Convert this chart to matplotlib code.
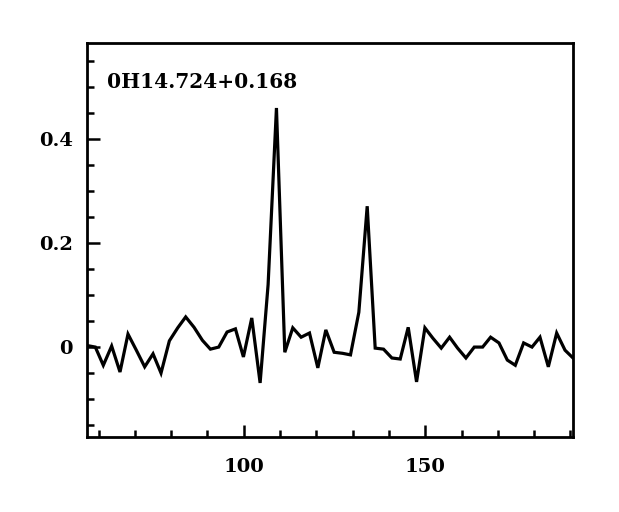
import matplotlib
matplotlib.use("Agg")
import matplotlib.pyplot as plt
from matplotlib.ticker import MultipleLocator, FuncFormatter

velocity = [56.8, 59.1, 61.3, 63.6, 65.9, 68.1, 70.4, 72.7, 75.0, 77.2,
            79.5, 81.8, 84.0, 86.3, 88.6, 90.8, 93.1, 95.4, 97.7, 99.9,
            102.2, 104.5, 106.7, 109.0, 111.3, 113.5, 115.8, 118.1, 120.4, 122.6,
            124.9, 127.2, 129.4, 131.7, 134.0, 136.2, 138.5, 140.8, 143.1, 145.3,
            147.6, 149.9, 152.1, 154.4, 156.7, 158.9, 161.2, 163.5, 165.8, 168.0,
            170.3, 172.6, 174.8, 177.1, 179.4, 181.6, 183.9, 186.2, 188.5, 190.7]
flux = [0.003, 0.000, -0.035, 0.002, -0.048, 0.025, -0.006, -0.038, -0.013, -0.050,
        0.012, 0.037, 0.058, 0.038, 0.013, -0.004, 0.000, 0.029, 0.035, -0.019,
        0.056, -0.069, 0.120, 0.460, -0.010, 0.037, 0.019, 0.027, -0.040, 0.033,
        -0.010, -0.012, -0.015, 0.067, 0.271, -0.002, -0.004, -0.021, -0.023, 0.038,
        -0.067, 0.037, 0.017, -0.002, 0.019, -0.002, -0.021, 0.000, 0.000, 0.019,
        0.008, -0.025, -0.035, 0.008, 0.000, 0.019, -0.038, 0.027, -0.006, -0.021]
source_name = "0H14.724+0.168"

fig = plt.figure(figsize=(6.19, 5.12), dpi=100)
ax = fig.add_axes([0.1405, 0.1465, 0.7852, 0.7695])
ax.plot(velocity, flux, color="black", lw=2.3, solid_joinstyle="miter")
ax.set_xlim(56.8, 190.7)
ax.set_ylim(-0.173, 0.585)

for s in ax.spines.values():
    s.set_linewidth(2.0)

ax.xaxis.set_major_locator(MultipleLocator(50))
ax.xaxis.set_minor_locator(MultipleLocator(10))
ax.yaxis.set_major_locator(MultipleLocator(0.2))
ax.yaxis.set_minor_locator(MultipleLocator(0.05))
ax.yaxis.set_major_formatter(FuncFormatter(lambda v, p: "0" if abs(v) < 1e-9 else f"{v:.1f}"))
ax.tick_params(which="both", direction="in", top=False, right=False, width=1.8)
ax.tick_params(which="major", length=9)
ax.tick_params(which="minor", length=5)
for lab in ax.get_xticklabels() + ax.get_yticklabels():
    lab.set_fontfamily("DejaVu Serif")
    lab.set_fontweight("bold")
    lab.set_fontsize(14)
ax.tick_params(axis="x", pad=15)
ax.tick_params(axis="y", pad=10)

ax.text(0.041, 0.90, source_name, transform=ax.transAxes, ha="left", va="center",
        fontfamily="DejaVu Serif", fontweight="bold", fontsize=14.5)

fig.savefig("out.png", dpi=100, facecolor="white")
